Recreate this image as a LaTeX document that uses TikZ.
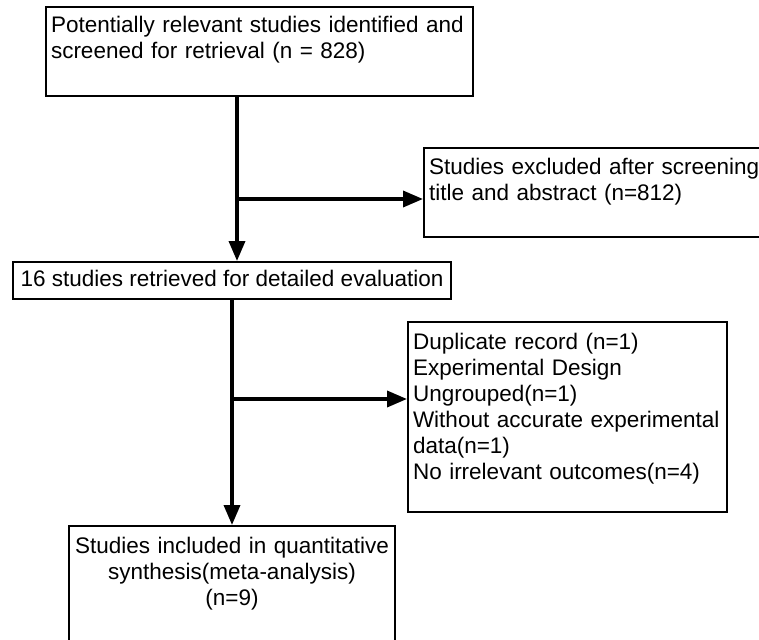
\documentclass[tikz,border=0pt]{standalone}
\usepackage{fontspec}
\setmainfont{Liberation Sans}
\usetikzlibrary{arrows.meta}
\begin{document}
\begin{tikzpicture}[x=1pt, y=-1pt,
    box/.style={draw, line width=2pt, anchor=north west, align=left, inner xsep=5pt, inner ysep=5pt,
      text height=21pt, font=\fontsize{22.5}{26}\selectfont},
    flow/.style={line width=3.5pt, -{Triangle[length=20pt, width=16pt]}},
  ]
  \useasboundingbox (0,0) rectangle (759,639);
  \clip (0,0) rectangle (759,639);
  % boxes
  \node[box, text width=417pt, text depth=58pt] (ident) at (45,6)
    {Potentially relevant studies identified and\\screened for retrieval (n = 828)};
  \node[box, text width=390pt, text depth=58pt] (excl) at (423,147)
    {Studies excluded after screening\\title and abstract (n=812)};
  \node[box, align=center, text height=16pt, text depth=5pt, minimum width=438pt, minimum height=37pt] (retr) at (12,261)
    {16 studies retrieved for detailed evaluation};
  \node[box, text width=309pt, text depth=157pt, inner ysep=6pt] (dupl) at (407,321)
    {Duplicate record (n=1)\\Experimental Design\\Ungrouped(n=1)\\Without accurate experimental\\data(n=1)\\No irrelevant outcomes(n=4)};
  \node[box, align=center, text width=316pt, text depth=105pt, inner ysep=6pt] (incl) at (68,525)
    {Studies included in quantitative\\synthesis(meta-analysis)\\(n=9)};
  % connectors
  \coordinate (ja) at (237,199);
  \coordinate (jb) at (232,399);
  \draw[flow] (ja |- ident.south) -- (ja |- retr.north);
  \draw[flow] (ja) -- (excl.west |- ja);
  \draw[flow] (jb |- retr.south) -- (jb |- incl.north);
  \draw[flow] (jb) -- (dupl.west |- jb);
\end{tikzpicture}
\end{document}
